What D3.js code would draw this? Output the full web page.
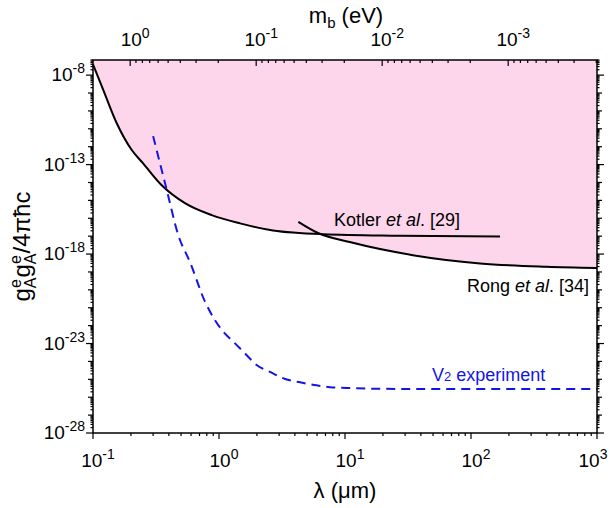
<!DOCTYPE html>
<html>
<head>
<meta charset="utf-8">
<script src="https://cdn.jsdelivr.net/npm/d3@7"></script>
<style>
  body { margin: 0; background: #fff; }
  svg { font-family: "Liberation Sans", Arial, sans-serif; }
</style>
</head>
<body>
<svg id="chart" width="612" height="508"></svg>
<script>
// constraint curves, lambda in um, coupling g^e_A g^e_A / 4 pi hbar c
const kotler_lambda = [0.1, 0.121, 0.154, 0.203, 0.249, 0.351, 0.537, 0.875, 1.47, 2.68, 6.7, 27, 170];
const kotler_value  = [4e-8, 1.4e-9, 2.1e-11, 6.5e-13, 1.2e-13, 7e-15, 7e-16, 1.5e-16, 5.2e-17, 2.1e-17, 1.3e-17, 1.07e-17, 9.5e-18];

const rong_lambda = [4.26, 6.1, 10.9, 34.6, 118, 398, 1000];
const rong_value  = [6.3e-17, 1.5e-17, 4.7e-18, 8.7e-19, 3e-19, 1.95e-19, 1.66e-19];

const v2_lambda = [0.30, 0.385, 0.475, 0.589, 0.774, 0.93, 1.08, 1.30, 1.61, 1.99, 2.54, 3.34, 4.40, 5.96, 8.07, 11.6, 27.3, 1000];
const v2_value  = [3.9e-12, 3.8e-15, 1.15e-17, 3.5e-19, 2.2e-21, 2e-22, 4.6e-23, 1.26e-23, 2.8e-24, 6.3e-25, 2.6e-25, 1.05e-25, 6.8e-26, 4.6e-26, 3.5e-26, 3.2e-26, 2.9e-26, 2.9e-26];

// axis ticks
const x_ticks = [-1, 0, 1, 2, 3];          // exponents of lambda
const y_ticks = [-28, -23, -18, -13, -8];  // labelled exponents
const top_ticks = [0, -1, -2, -3];         // exponents of m_b
const hbar_c = 0.1973; // eV um

const svg = d3.select('#chart');
const p_left = 93, p_right = 597, p_top = 60, p_bottom = 433;

const x = d3.scaleLog().domain([0.1, 1000]).range([p_left, p_right]);
const y = d3.scaleLog().domain([1e-28, 7e-8]).range([p_bottom, p_top]);
const xm = d3.scaleLog().domain([hbar_c / 0.1, hbar_c / 1000]).range([p_left, p_right]);

const pink = '#fdd6ec';
const blue = '#1414e6';

// shaded excluded region: union of areas above each curve
const area = d3.area()
    .x((d) => x(d[0]))
    .y0(p_top)
    .y1((d) => y(d[1]))
    .curve(d3.curveMonotoneX);

const kotler = kotler_lambda.map((l, i) => [l, kotler_value[i]]);
const rong = rong_lambda.map((l, i) => [l, rong_value[i]]);
const v2 = v2_lambda.map((l, i) => [l, v2_value[i]]);

svg.append('path').attr('d', area(kotler)).attr('fill', pink);
svg.append('path').attr('d', area(rong)).attr('fill', pink);

const line = d3.line()
    .x((d) => x(d[0]))
    .y((d) => y(d[1]))
    .curve(d3.curveMonotoneX);

svg.append('path').attr('d', line(kotler))
    .attr('fill', 'none').attr('stroke', '#000').attr('stroke-width', 2);
svg.append('path').attr('d', line(rong))
    .attr('fill', 'none').attr('stroke', '#000').attr('stroke-width', 2);
svg.append('path').attr('d', line(v2))
    .attr('fill', 'none').attr('stroke', blue).attr('stroke-width', 2)
    .attr('stroke-dasharray', '9,6');

// ticks helper: list of decade and minor tick values between exponents
function logTicks(lo, hi) {
    const out = [];
    for (let e = lo; e <= hi; e++) {
        for (let k = 1; k <= 9; k++) {
            const v = k * Math.pow(10, e);
            out.push({v: v, major: k === 1, e: e});
        }
    }
    return out;
}

const axes = svg.append('g').attr('stroke', '#000').attr('stroke-width', 1.2);

// bottom axis (outward)
for (const t of logTicks(-1, 3)) {
    if (t.v > 1000.0001) continue;
    const px = x(t.v);
    axes.append('line').attr('x1', px).attr('x2', px)
        .attr('y1', p_bottom).attr('y2', p_bottom + (t.major ? 6 : 3));
}
// top axis m_b (inward)
for (const t of logTicks(-4, 0)) {
    if (t.v > hbar_c / 0.1 || t.v < hbar_c / 1000) continue;
    const px = xm(t.v);
    axes.append('line').attr('x1', px).attr('x2', px)
        .attr('y1', p_top).attr('y2', p_top + (t.major ? 6 : 3));
}
// left and right axes (outward)
for (const t of logTicks(-28, -8)) {
    if (t.v > 7e-8) continue;
    const py = y(t.v);
    let len = 2.5;
    if (t.major) len = y_ticks.includes(t.e) ? 7 : 5;
    axes.append('line').attr('x1', p_left).attr('x2', p_left - len).attr('y1', py).attr('y2', py);
    axes.append('line').attr('x1', p_right).attr('x2', p_right + len).attr('y1', py).attr('y2', py);
}

// frame
svg.append('rect')
    .attr('x', p_left).attr('y', p_top)
    .attr('width', p_right - p_left).attr('height', p_bottom - p_top)
    .attr('fill', 'none').attr('stroke', '#000').attr('stroke-width', 1.5);

// power-of-ten label
function powLabel(g, px, py, e, anchor) {
    const t = g.append('text')
        .attr('x', px).attr('y', py)
        .attr('text-anchor', anchor)
        .attr('font-size', 19);
    t.append('tspan').text('10');
    t.append('tspan').attr('dy', -8).attr('font-size', 14).text(e);
    return t;
}

for (const e of x_ticks) {
    const px = Math.min(x(Math.pow(10, e)) + 5, 593);
    powLabel(svg, px, 467, e, 'middle');
}
for (const e of top_ticks) powLabel(svg, xm(Math.pow(10, e)) + 5, 46, e, 'middle');
for (const e of y_ticks) powLabel(svg, 85, y(Math.pow(10, e)) + 6, e, 'end');

// axis titles
svg.append('text')
    .attr('x', 345).attr('y', 498)
    .attr('text-anchor', 'middle')
    .attr('font-size', 22)
    .text('λ (μm)');

const mt = svg.append('text')
    .attr('x', 346).attr('y', 23)
    .attr('text-anchor', 'middle')
    .attr('font-size', 22);
mt.append('tspan').text('m');
mt.append('tspan').attr('dy', 5).attr('font-size', 15).text('b');
mt.append('tspan').attr('dy', -5).text(' (eV)');

const yt = svg.append('text')
    .attr('transform', 'translate(30,' + ((p_top + p_bottom) / 2) + ') rotate(-90)')
    .attr('text-anchor', 'middle')
    .attr('font-size', 24);
yt.append('tspan').text('g');
yt.append('tspan').attr('dy', -9).attr('font-size', 16).text('e');
yt.append('tspan').attr('dx', -9).attr('dy', 15).attr('font-size', 16).text('A');
yt.append('tspan').attr('dy', -6).text('g');
yt.append('tspan').attr('dy', -9).attr('font-size', 16).text('e');
yt.append('tspan').attr('dx', -9).attr('dy', 15).attr('font-size', 16).text('A');
yt.append('tspan').attr('dy', -6).text('/4πħc');

// curve labels
const kl = svg.append('text').attr('x', 334).attr('y', 226).attr('font-size', 18);
kl.append('tspan').text('Kotler ');
kl.append('tspan').attr('font-style', 'italic').text('et al');
kl.append('tspan').text('. [29]');

const rl = svg.append('text').attr('x', 589).attr('y', 292).attr('font-size', 18).attr('text-anchor', 'end');
rl.append('tspan').text('Rong ');
rl.append('tspan').attr('font-style', 'italic').text('et al');
rl.append('tspan').text('. [34]');

const vl = svg.append('text').attr('x', 432).attr('y', 381).attr('font-size', 18).attr('fill', blue);
vl.append('tspan').text('V');
vl.append('tspan').attr('font-size', 13).text('2');
vl.append('tspan').text(' experiment');
</script>
</body>
</html>
